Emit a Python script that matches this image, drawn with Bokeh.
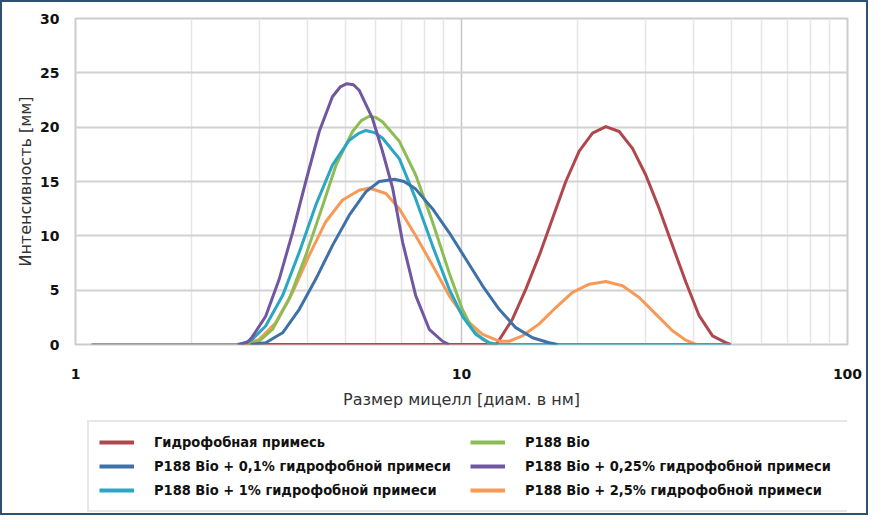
from bokeh.plotting import figure
from bokeh.layouts import column
from bokeh.models import Range1d, FixedTicker, Legend, LegendItem
from bokeh.embed import file_html
from bokeh.resources import INLINE

# ---------------- data ----------------
x_ticks = [1, 10, 100]
x_tick_labels = ["1", "10", "100"]
x_minor = [2, 3, 4, 5, 6, 7, 8, 9, 20, 30, 40, 50, 60, 70, 80, 90]
y_ticks = [0, 5, 10, 15, 20, 25, 30]

names = [
    "Гидрофобная примесь",
    "P188 Bio + 0,1% гидрофобной примеси",
    "P188 Bio + 1% гидрофобной примеси",
    "P188 Bio",
    "P188 Bio + 0,25% гидрофобной примеси",
    "P188 Bio + 2,5% гидрофобной примеси",
]

base_x = [1.1, 2.7]
base_y = [0, 0]

red_x = [2.7, 12.25, 12.40, 13.56, 14.68, 15.90, 17.21, 18.63, 20.18, 21.85, 23.65,
         25.61, 27.73, 30.02, 32.52, 35.21, 38.12, 41.28, 44.70, 48.38, 49.77]
red_y = [0, 0, 0.18, 2.35, 5.1, 8.2, 11.6, 15.0, 17.8, 19.45, 20.05,
         19.6, 18.05, 15.6, 12.5, 9.1, 5.75, 2.65, 0.8, 0.18, 0]

blue_x = [2.84, 3.11, 3.44, 3.80, 4.19, 4.63, 5.12, 5.65, 6.12, 6.70, 7.10, 7.61, 8.41,
          9.29, 10.26, 11.34, 12.52, 13.82, 15.28, 16.87, 17.73]
blue_y = [0, 0.16, 1.08, 3.24, 6.0, 9.1, 11.9, 14.05, 15.0, 15.2, 15.0, 14.3, 12.5,
          10.3, 7.87, 5.4, 3.24, 1.55, 0.62, 0.16, 0]

cyan_x = [2.68, 2.87, 3.11, 3.44, 3.80, 4.19, 4.63, 5.12, 5.40, 5.65, 5.95, 6.24, 6.90,
          7.61, 8.41, 9.29, 10.06, 10.89, 11.80, 12.40, 50.0]
cyan_y = [0, 0.46, 1.7, 4.5, 8.5, 12.8, 16.5, 18.8, 19.4, 19.7, 19.5, 19.0, 17.1,
          13.4, 9.1, 5.1, 2.6, 0.93, 0.16, 0, 0]

green_x = [2.74, 2.99, 3.24, 3.58, 3.95, 4.37, 4.73, 5.22, 5.50, 5.77, 6.00, 6.24, 6.90,
           7.61, 8.41, 9.29, 10.06, 10.68, 11.34, 12.03]
green_y = [0, 0.3, 1.4, 4.2, 8.2, 12.8, 16.5, 19.6, 20.6, 21.0, 20.9, 20.5, 18.7,
           15.6, 11.3, 6.6, 3.2, 1.4, 0.46, 0]

purple_x = [2.63, 2.79, 2.87, 3.11, 3.37, 3.65, 3.95, 4.28, 4.63, 4.85, 5.05, 5.25,
            5.43, 5.88, 6.24, 6.63, 7.04, 7.61, 8.25, 8.93, 9.29]
purple_y = [0, 0.2, 0.7, 2.6, 6.0, 10.3, 15.0, 19.6, 22.8, 23.7, 24.0, 23.9,
            23.4, 20.8, 17.8, 14.4, 9.4, 4.5, 1.4, 0.3, 0]

orange_x = [2.74, 2.99, 3.30, 3.65, 4.03, 4.45, 4.92, 5.43, 5.77, 6.37, 6.90, 7.61,
            8.41, 9.29, 10.26, 11.34, 12.52, 13.29, 14.39, 15.90, 17.55, 19.39,
            21.42, 23.65, 26.13, 28.87, 31.87, 35.21, 38.12, 40.46]
orange_y = [0, 0.46, 2.0, 4.8, 8.2, 11.3, 13.3, 14.2, 14.4, 13.9, 12.5, 10.0,
            7.3, 4.5, 2.3, 0.93, 0.31, 0.3, 0.8, 1.9, 3.4, 4.8,
            5.55, 5.8, 5.4, 4.33, 2.8, 1.26, 0.4, 0]

colors = {
    "red": "#b0474c",
    "blue": "#3e71a8",
    "cyan": "#2ba6c4",
    "green": "#8cbd55",
    "purple": "#7157a1",
    "orange": "#f79a57",
}

series = [
    ("red", red_x, red_y),
    ("blue", blue_x, blue_y),
    ("cyan", cyan_x, cyan_y),
    ("green", green_x, green_y),
    ("purple", purple_x, purple_y),
    ("orange", orange_x, orange_y),
]
draw_order = ["red", "orange", "green", "cyan", "blue", "purple"]

# ---------------- main chart ----------------
p = figure(width=864, height=410, x_axis_type="log",
           x_range=Range1d(1, 100), y_range=Range1d(0, 30),
           output_backend="svg", toolbar_location=None,
           min_border_left=73, min_border_right=19,
           min_border_top=16, min_border_bottom=68)
p.background_fill_color = "white"
p.border_fill_color = "white"
p.outline_line_color = "#cccccc"
p.outline_line_width = 2

p.xaxis.ticker = FixedTicker(ticks=x_ticks, minor_ticks=x_minor)
p.xaxis.major_label_overrides = {t: s for t, s in zip(x_ticks, x_tick_labels)}
p.yaxis.ticker = FixedTicker(ticks=y_ticks)

for ax in (p.xaxis, p.yaxis):
    ax.axis_line_color = None
    ax.major_tick_line_color = None
    ax.minor_tick_line_color = None
    ax.major_label_text_font = "DejaVu Sans"
    ax.major_label_text_font_style = "bold"
    ax.major_label_text_font_size = "14px"
    ax.major_label_text_color = "#111111"
    ax.axis_label_text_font = "DejaVu Sans"
    ax.axis_label_text_font_style = "normal"
    ax.axis_label_text_font_size = "16px"
    ax.axis_label_text_color = "#333333"

p.xaxis.axis_label = "Размер мицелл [диам. в нм]"
p.yaxis.axis_label = "Интенсивность [мм]"
p.xaxis.major_label_standoff = 18
p.xaxis.axis_label_standoff = 8
p.yaxis.major_label_standoff = 10
p.yaxis.axis_label_standoff = 2

p.ygrid.ticker = FixedTicker(ticks=y_ticks)
p.ygrid.grid_line_color = "#d2d2d2"
p.ygrid.grid_line_width = 2
p.xgrid.ticker = FixedTicker(ticks=x_ticks, minor_ticks=x_minor)
p.xgrid.grid_line_color = "#c6c6c6"
p.xgrid.grid_line_width = 1.5
p.xgrid.minor_grid_line_color = "#e6e6e6"
p.xgrid.minor_grid_line_width = 1.5

lw = 3
p.line(base_x, base_y, line_color="#9a9a9a", line_width=lw)
lookup = {k: (xs, ys) for k, xs, ys in series}
for k in draw_order:
    xs, ys = lookup[k]
    p.line(xs, ys, line_color=colors[k], line_width=lw, line_join="round")

# ---------------- legend panel (frame aligned with the chart frame) ----------------
q = figure(width=864, height=101, x_range=Range1d(-10, -9), y_range=Range1d(-10, -9),
           x_axis_location=None, y_axis_location=None,
           output_backend="svg", toolbar_location=None,
           min_border=0, min_border_left=0, min_border_right=0,
           min_border_top=0, min_border_bottom=0)
q.grid.visible = False
q.outline_line_color = None
q.background_fill_color = "white"
q.border_fill_color = "white"

items = []
for (k, xs, ys), n in zip(series, names):
    r = q.line(xs, ys, line_color=colors[k], line_width=4)
    items.append(LegendItem(label=n, renderers=[r]))

legend = Legend(items=items, ncols=2, location=(12, 1),
                glyph_width=35, glyph_height=20, label_standoff=20,
                label_width=312, spacing=4, padding=10, margin=0,
                border_line_color="#d0d0d0", border_line_width=2,
                background_fill_color="white",
                label_text_font="DejaVu Sans Condensed",
                label_text_font_style="bold",
                label_text_font_size="14.5px",
                label_text_color="#111111")
q.add_layout(legend)

layout = column(p, q, spacing=0)
layout.styles = {"border": "2px solid #2e5072"}

open("out.html", "w").write(file_html(layout, INLINE))
